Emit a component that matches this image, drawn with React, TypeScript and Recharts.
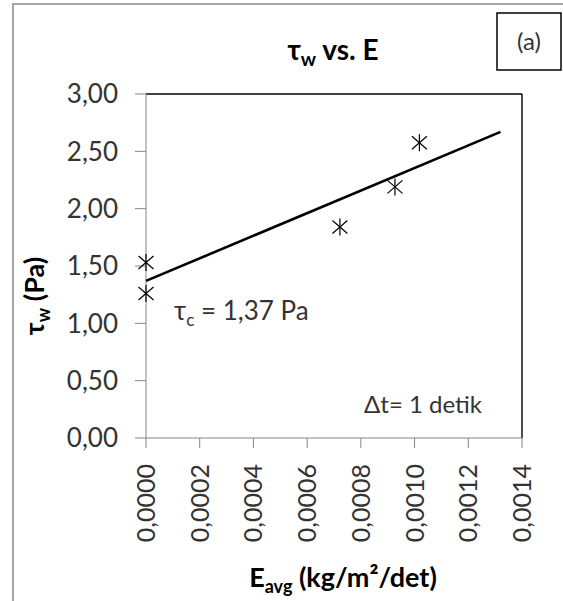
import React from 'react';
import { ScatterChart, Scatter, XAxis, YAxis, ReferenceLine } from 'recharts';

// Data
const eAvg = [0, 0, 0.000722, 0.000927, 0.001018];
const tauW = [1.53, 1.26, 1.84, 2.19, 2.575];
const trendX = [0, 0.00132];
const trendY = [1.37, 2.67];
const xTicks = [0, 0.0002, 0.0004, 0.0006, 0.0008, 0.001, 0.0012, 0.0014];
const yTicks = [0, 0.5, 1, 1.5, 2, 2.5, 3];

const points = eAvg.map((x, i) => ({ x, y: tauW[i] }));
const trend = trendX.map((x, i) => ({ x, y: trendY[i] }));

const FONT = "Lato, 'Noto Sans', 'DejaVu Sans', sans-serif";
const TXT = '#333333';
const AXIS = '#868686';

const fmtX = (v: number) => v.toFixed(4).replace('.', ',');
const fmtY = (v: number) => v.toFixed(2).replace('.', ',');

const Star = (props: any) => {
  const { cx, cy } = props;
  if (cx == null || cy == null) return <g />;
  const dx = 7.5, dy = 6.5, v = 8.5;
  return (
    <g stroke="#000" strokeWidth={1.2}>
      <line x1={cx - dx} y1={cy - dy} x2={cx + dx} y2={cy + dy} />
      <line x1={cx - dx} y1={cy + dy} x2={cx + dx} y2={cy - dy} />
      <line x1={cx} y1={cy - v} x2={cx} y2={cy + v} />
    </g>
  );
};

const Empty = () => <g />;

const XTick = (props: any) => {
  const { x, y, payload } = props;
  const yy = y + 14;
  return (
    <text
      x={x}
      y={yy}
      transform={`rotate(-90, ${x}, ${yy})`}
      textAnchor="end"
      dy="0.36em"
      fontSize={25}
      fontFamily={FONT}
      fill={TXT}
    >
      {fmtX(payload.value)}
    </text>
  );
};

export default function App() {
  return (
    <div style={{ position: 'absolute', left: 0, top: 0, width: 563, height: 601, background: '#fff', overflow: 'hidden' }}>
      <ScatterChart
        width={563}
        height={601}
        margin={{ top: 94, right: 41, left: 86, bottom: 103 }}
      >
        <XAxis
          dataKey="x"
          type="number"
          domain={[0, 0.0014]}
          ticks={xTicks}
          interval={0}
          height={60}
          tickSize={10}
          stroke={AXIS}
          tick={<XTick />}
        />
        <YAxis
          dataKey="y"
          type="number"
          domain={[0, 3]}
          ticks={yTicks}
          interval={0}
          width={60}
          tickSize={11}
          tickMargin={17}
          stroke={AXIS}
          tickFormatter={fmtY}
          tick={{ fontSize: 26, fontFamily: FONT, fill: TXT }}
        />
        <ReferenceLine y={3} stroke="#000" strokeWidth={1.4} ifOverflow="visible" />
        <ReferenceLine x={0.0014} stroke="#000" strokeWidth={1.4} ifOverflow="visible" />
        <Scatter
          data={trend}
          line={{ stroke: '#000', strokeWidth: 2.6 }}
          shape={<Empty />}
          isAnimationActive={false}
        />
        <Scatter data={points} shape={<Star />} isAnimationActive={false} />
      </ScatterChart>
      <svg
        width={563}
        height={601}
        style={{ position: 'absolute', left: 0, top: 0, pointerEvents: 'none' }}
        fontFamily={FONT}
      >
        <rect x={13} y={4} width={700} height={800} fill="none" stroke="#a6a6a6" strokeWidth={2} />
        <rect x={497} y={13} width={64} height={57} fill="none" stroke="#000" strokeWidth={1.5} />
        <text x={529} y={50} textAnchor="middle" fontSize={24} fill={TXT}>(a)</text>
        <text x={333} y={60} textAnchor="middle" fontSize={28} fontWeight="bold" fill="#000">
          τ<tspan fontSize={19} dy={6}>w</tspan><tspan dy={-6}> vs. E</tspan>
        </text>
        <text
          x={0}
          y={0}
          transform="translate(44, 296) rotate(-90)"
          textAnchor="middle"
          fontSize={27}
          fontWeight="bold"
          fill="#000"
        >
          τ<tspan fontSize={18} dy={6}>w</tspan><tspan dy={-6}> (Pa)</tspan>
        </text>
        <text x={343} y={587} textAnchor="middle" fontSize={27} fontWeight="bold" fill="#000">
          E<tspan fontSize={18} dy={6}>avg</tspan><tspan dy={-6}> (kg/m²/det)</tspan>
        </text>
        <text x={174} y={320} fontSize={26} fill={TXT}>
          τ<tspan fontSize={17} dy={6}>c</tspan><tspan dy={-6}> = 1,37 Pa</tspan>
        </text>
        <text x={364} y={413} fontSize={24} fill={TXT}>Δt= 1 detik</text>
      </svg>
    </div>
  );
}
